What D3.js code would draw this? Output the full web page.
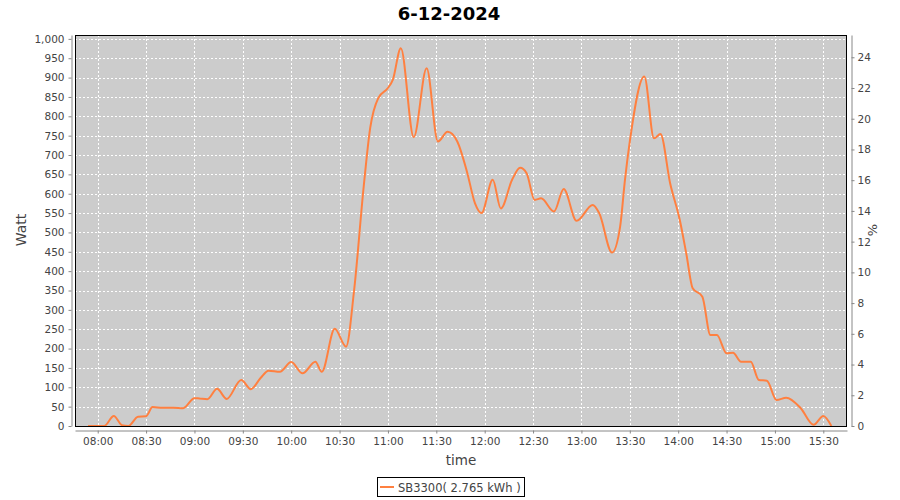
<!DOCTYPE html>
<html>
<head>
<meta charset="utf-8">
<script src="https://cdn.jsdelivr.net/npm/d3@7"></script>
<style>
  body { margin: 0; background: #fff; }
  svg { display: block; }
  .tick text { font-family: "DejaVu Sans", sans-serif; font-size: 10.5px; fill: #444; }
  .axis path, .axis line { stroke: #888; }
</style>
</head>
<body>
<div id="chart"></div>
<script>
// readings from the reference picture (time of day, watt)
const times = ["07:54","08:04","08:10","08:15","08:19","08:25","08:30","08:34","08:40","08:47","08:53",
  "09:00","09:03","09:08","09:14","09:20","09:29","09:35","09:41","09:46","09:53",
  "10:00","10:07","10:15","10:19","10:27","10:34","10:39","10:45","10:49","10:54",
  "11:00","11:03","11:08","11:16","11:24","11:31","11:37","11:43","11:49","11:54","11:58",
  "12:05","12:10","12:17","12:22","12:26","12:31","12:35","12:43","12:49","12:57",
  "13:07","13:11","13:19","13:24","13:27","13:30","13:39","13:45","13:49","13:55",
  "14:01","14:05","14:09","14:15","14:20","14:24","14:30","14:34","14:39","14:45","14:50","14:55",
  "15:01","15:07","15:16","15:24","15:30","15:35"];
const watts = [0,0,26,2,0,24,25,49,47,47,46,
  72,71,69,96,70,119,95,124,143,140,
  165,136,166,140,251,205,350,620,770,847,
  873,894,976,746,924,735,760,735,657,575,550,
  636,562,636,667,653,584,588,554,612,530,
  571,550,448,515,636,735,903,743,754,627,
  532,446,356,334,235,235,188,189,166,166,119,117,
  67,73,46,3,26,0];

const xTickLabels = ["08:00","08:30","09:00","09:30","10:00","10:30","11:00","11:30",
  "12:00","12:30","13:00","13:30","14:00","14:30","15:00","15:30"];
const wattTicks = d3.range(0, 1001, 50);
const pctTicks = d3.range(0, 25, 2);

const title = "6-12-2024";
const seriesName = "SB3300( 2.765 kWh )";

const parseTime = d3.timeParse("%H:%M:%S");
const data = times.map((t, i) => ({ t: parseTime(t + ":00"), w: watts[i] }));

const width = 900, height = 500;
const plot = { left: 75, right: 847, top: 35, bottom: 426 };

const svg = d3.select("#chart").append("svg")
    .attr("width", width)
    .attr("height", height);

const x = d3.scaleTime()
    .domain([parseTime("07:45:55"), parseTime("15:44:42")])
    .range([plot.left, plot.right]);

const y = d3.scaleLinear()
    .domain([0, 1010])
    .range([plot.bottom, plot.top]);

const yPct = d3.scaleLinear()
    .domain([0, 25.45])
    .range([plot.bottom, plot.top]);

// plot background
svg.append("rect")
    .attr("x", plot.left)
    .attr("y", plot.top)
    .attr("width", plot.right - plot.left)
    .attr("height", plot.bottom - plot.top)
    .attr("fill", "#cccccc");

// grid
const xTicks = xTickLabels.map(s => parseTime(s + ":00"));
svg.append("g").selectAll("line")
    .data(wattTicks.slice(1))
    .join("line")
    .attr("x1", plot.left).attr("x2", plot.right)
    .attr("y1", d => Math.round(y(d)) + 0.5)
    .attr("y2", d => Math.round(y(d)) + 0.5)
    .attr("stroke", "#fff")
    .attr("stroke-dasharray", "2,2");
svg.append("g").selectAll("line")
    .data(xTicks)
    .join("line")
    .attr("x1", d => Math.round(x(d)) + 0.5)
    .attr("x2", d => Math.round(x(d)) + 0.5)
    .attr("y1", plot.top).attr("y2", plot.bottom)
    .attr("stroke", "#fff")
    .attr("stroke-dasharray", "2,2");

// the series
svg.append("clipPath").attr("id", "clip")
  .append("rect")
    .attr("x", plot.left).attr("y", plot.top)
    .attr("width", plot.right - plot.left)
    .attr("height", plot.bottom - plot.top);

svg.append("path")
    .datum(data)
    .attr("clip-path", "url(#clip)")
    .attr("fill", "none")
    .attr("stroke", "rgb(255,128,64)")
    .attr("stroke-width", 2)
    .attr("d", d3.line()
        .x(d => x(d.t))
        .y(d => y(d.w))
        .curve(d3.curveMonotoneX));

// plot border
svg.append("rect")
    .attr("x", plot.left + 0.5)
    .attr("y", plot.top + 0.5)
    .attr("width", plot.right - plot.left - 1)
    .attr("height", plot.bottom - plot.top)
    .attr("fill", "none")
    .attr("stroke", "#000");

// axes
svg.append("g")
    .attr("class", "axis")
    .attr("transform", "translate(71.5,0)")
    .call(d3.axisLeft(y).tickValues(wattTicks).tickFormat(d3.format(","))
        .tickSize(3).tickSizeOuter(0).tickPadding(4));

svg.append("g")
    .attr("class", "axis")
    .attr("transform", "translate(851.5,0)")
    .call(d3.axisRight(yPct).tickValues(pctTicks)
        .tickSize(3).tickSizeOuter(0).tickPadding(3));

svg.append("g")
    .attr("class", "axis")
    .attr("transform", "translate(0,430.5)")
    .call(d3.axisBottom(x).tickValues(xTicks).tickFormat(d3.timeFormat("%H:%M"))
        .tickSize(3).tickSizeOuter(0).tickPadding(4));

// titles
svg.append("text")
    .attr("x", 449).attr("y", 20)
    .attr("text-anchor", "middle")
    .attr("font-family", "DejaVu Sans, sans-serif")
    .attr("font-weight", "bold")
    .attr("font-size", 18)
    .attr("fill", "#000")
    .text(title);

svg.append("text")
    .attr("transform", "translate(26,230) rotate(-90)")
    .attr("text-anchor", "middle")
    .attr("font-family", "DejaVu Sans, sans-serif")
    .attr("font-size", 14)
    .attr("fill", "#444")
    .text("Watt");

svg.append("text")
    .attr("transform", "translate(877,230) rotate(-90)")
    .attr("text-anchor", "middle")
    .attr("font-family", "DejaVu Sans, sans-serif")
    .attr("font-size", 13)
    .attr("fill", "#444")
    .text("%");

svg.append("text")
    .attr("x", 461).attr("y", 465)
    .attr("text-anchor", "middle")
    .attr("font-family", "DejaVu Sans, sans-serif")
    .attr("font-size", 13.5)
    .attr("fill", "#444")
    .text("time");

// legend
const legend = svg.append("g").attr("transform", "translate(377,477)");
legend.append("rect")
    .attr("x", 0.5).attr("y", 0.5)
    .attr("width", 147).attr("height", 19)
    .attr("fill", "#fff")
    .attr("stroke", "#000");
legend.append("line")
    .attr("x1", 3).attr("x2", 17)
    .attr("y1", 10).attr("y2", 10)
    .attr("stroke", "rgb(255,128,64)")
    .attr("stroke-width", 2);
legend.append("text")
    .attr("x", 21).attr("y", 14.5)
    .attr("font-family", "DejaVu Sans, sans-serif")
    .attr("font-size", 11.5)
    .attr("fill", "#444")
    .text(seriesName);
</script>
</body>
</html>
